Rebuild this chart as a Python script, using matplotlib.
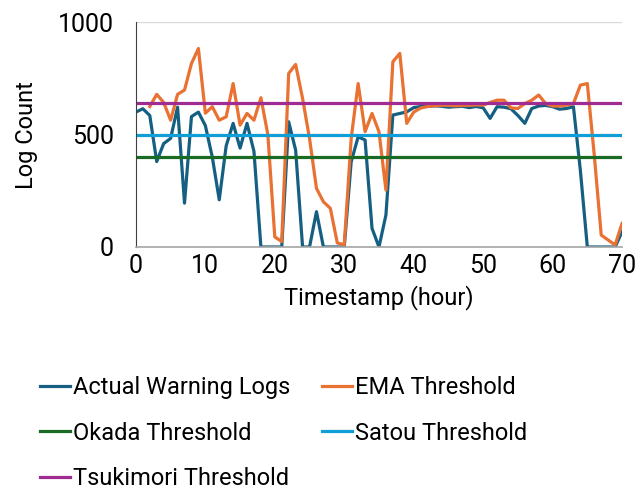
import numpy as np
import matplotlib.pyplot as plt

plt.rcParams['font.family'] = ['Roboto', 'DejaVu Sans']

###--- Data ---###
hours = np.arange(71)

actual = [600, 615, 585, 380, 460, 483, 622, 195, 580, 600,
          540, 400, 210, 450, 550, 440, 550, 425, 0, 0,
          0, 0, 557, 431, 0, 0, 157, 0, 0, 0,
          0, 379, 490, 476, 83, 0, 142, 587, 594, 601,
          620, 625, 625, 628, 626, 622, 624, 626, 620, 625,
          619, 572, 624, 622, 615, 585, 550, 616, 627, 630,
          624, 613, 616, 624, 340, 0, 0, 0, 0, 0,
          68]

ema = [np.nan, np.nan, 625, 679, 643, 564, 679, 698, 816, 883,
       595, 624, 564, 579, 727, 542, 594, 564, 664, 500,
       45, 24, 772, 812, 661, 483, 261, 201, 172, 18,
       10, 483, 727, 513, 594, 513, 253, 824, 861, 550,
       600, 618, 625, 628, 630, 630, 628, 630, 630, 632,
       631, 643, 653, 653, 619, 616, 638, 653, 676, 638,
       627, 627, 631, 638, 720, 727, 409, 53, 31, 9,
       105]

okada = 400
satou = 500
tsukimori = 640

names = ['Actual Warning Logs', 'EMA Threshold', 'Okada Threshold',
         'Satou Threshold', 'Tsukimori Threshold']
colors = ['#156082', '#E97132', '#196B24', '#0F9ED5', '#A02B93']

###--- Plotting ---###
fig = plt.figure(figsize=(6.38, 4.93), dpi=100)
ax = fig.add_axes([0.213, 0.499, 0.762, 0.456])

lw = 2.3
l1, = ax.plot(hours, actual, color=colors[0], lw=lw)
l2, = ax.plot(hours, ema, color=colors[1], lw=lw)
l3, = ax.plot(hours, np.full(len(hours), okada), color=colors[2], lw=lw)
l4, = ax.plot(hours, np.full(len(hours), satou), color=colors[3], lw=lw)
l5, = ax.plot(hours, np.full(len(hours), tsukimori), color=colors[4], lw=lw)

ax.set_xlim(0, 70)
ax.set_ylim(0, 1000)
ax.set_xticks(range(0, 71, 10))
ax.set_yticks([0, 500, 1000])
ax.grid(axis='y', color='#d9d9d9', lw=1)
ax.set_axisbelow(True)
for s in ['top', 'right']:
    ax.spines[s].set_visible(False)
ax.spines['left'].set_color('#404040')
ax.spines['bottom'].set_color('#a6a6a6')
ax.spines['bottom'].set_linewidth(1.2)
ax.tick_params(length=0, labelsize=18, colors='#000000', pad=5)
ax.tick_params(axis='y', pad=16)

ax.set_xlabel('Timestamp (hour)', fontsize=17, labelpad=5)
ax.set_ylabel('Log Count', fontsize=17, labelpad=14)

handles = [l1, l3, l5, l2, l4]
labels = [names[0], names[2], names[4], names[1], names[3]]
fig.legend(handles, labels, loc='upper left', bbox_to_anchor=(0.063, 0.237),
           ncol=2, frameon=False, fontsize=17, handlelength=1.25,
           handletextpad=0.15, columnspacing=1.35, labelspacing=0.95,
           borderpad=0, borderaxespad=0)

fig.savefig('out.png', dpi=100)
